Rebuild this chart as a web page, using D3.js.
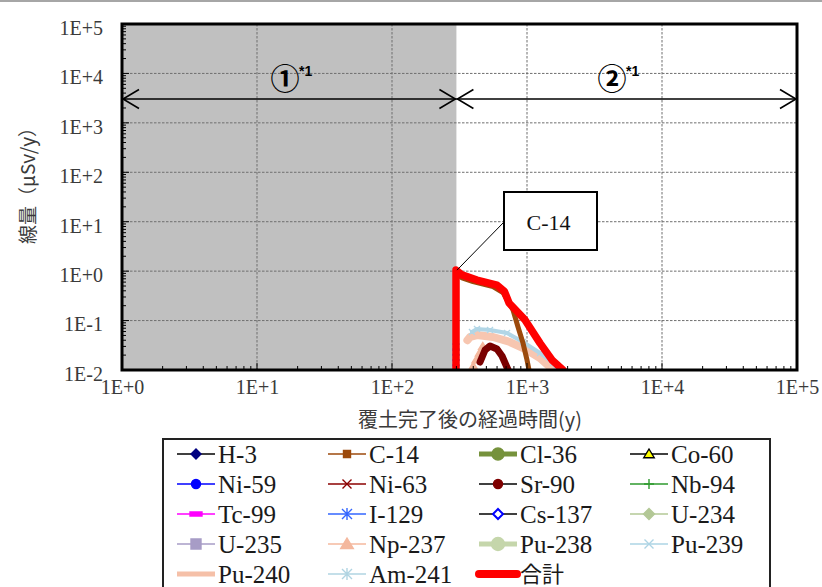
<!DOCTYPE html>
<html><head><meta charset="utf-8">
<script src="https://cdn.jsdelivr.net/npm/d3@7"></script>
<style>body{margin:0;background:#fff} svg{display:block}</style>
</head><body>
<svg id="c" width="822" height="587"></svg>
<script>
// ---------------- data ----------------
const nuclides = ["H-3","C-14","Cl-36","Co-60","Ni-59","Ni-63","Sr-90","Nb-94","Tc-99","I-129","Cs-137","U-234","U-235","Np-237","Pu-238","Pu-239","Pu-240","Am-241","合計"];
const xTickValues = [1, 10, 100, 1000, 10000, 100000];
const xTickLabels = ["1E+0","1E+1","1E+2","1E+3","1E+4","1E+5"];
const yTickValues = [0.01, 0.1, 1, 10, 100, 1000, 10000, 100000];
const yTickLabels = ["1E-2","1E-1","1E+0","1E+1","1E+2","1E+3","1E+4","1E+5"];
const xTitle = "覆土完了後の経過時間(y)";
const yTitle = "線量（μSv/y）";
const periodBoundaryYear = 300;
const periodLabels = ["①", "②"];
const periodNote = "*1";
const calloutText = "C-14";

// years after cover completion / dose (μSv/y)
const totalYears = [298, 298, 330, 426, 599, 680, 736, 967, 1248, 1531, 1849, 2000];
const totalDose  = [0.003, 1.05, 0.84, 0.66, 0.52, 0.39, 0.227, 0.103, 0.035, 0.016, 0.010, 0.008];
const c14Years = [298, 330, 398, 560, 664, 788, 858, 934, 1000, 1035, 1060];
const c14Dose  = [0.95, 0.727, 0.617, 0.489, 0.37, 0.164, 0.074, 0.035, 0.016, 0.010, 0.008];
const pu240Years = [362, 380, 426, 560, 748, 1000, 1248, 1480, 1612];
const pu240Dose  = [0.040, 0.047, 0.051, 0.0465, 0.0368, 0.0254, 0.0175, 0.0115, 0.0091];
const pu239Years = [391, 426, 532, 711, 934, 1248, 1559, 1698];
const pu239Dose  = [0.0588, 0.0675, 0.0644, 0.056, 0.0368, 0.0221, 0.0139, 0.0096];
const ni63Years = [449, 489, 532, 599, 653, 699, 740];
const ni63Dose  = [0.0145, 0.0254, 0.0306, 0.0266, 0.0192, 0.0126, 0.0088];
const np237Years = [385, 400, 420, 445, 470];
const np237Dose  = [0.009, 0.012, 0.016, 0.022, 0.030];
const i129Years = [298, 298, 298, 298, 298];
const i129Dose  = [0.011, 0.014, 0.018, 0.023, 0.029];

// ---------------- styles ----------------
const legendStyle = {
  "H-3":   {line:"#000", w:1.5, m:"diamond", fill:"#000080", stroke:"#000080", s:5},
  "C-14":  {line:"#9c4a0c", w:1.5, m:"square", fill:"#9c4a0c", stroke:"#9c4a0c", s:3.5},
  "Cl-36": {line:"#76923c", w:5, m:"circle", fill:"#76923c", stroke:"#76923c", s:6},
  "Co-60": {line:"#000", w:1.5, m:"triangle", fill:"#ffff00", stroke:"#000", s:5},
  "Ni-59": {line:"#0000ff", w:1.5, m:"circle", fill:"#0000ff", stroke:"#0000ff", s:4.5},
  "Ni-63": {line:"#8b0000", w:1.5, m:"x", fill:"none", stroke:"#8b0000", s:4.5},
  "Sr-90": {line:"#000", w:1.5, m:"circle", fill:"#7f0000", stroke:"#7f0000", s:4.5},
  "Nb-94": {line:"#2e9a2e", w:1.5, m:"plus", fill:"none", stroke:"#2e9a2e", s:5},
  "Tc-99": {line:"#ff00ff", w:1.5, m:"bar", fill:"#ff00ff", stroke:"#ff00ff", s:6},
  "I-129": {line:"#3366ff", w:1.5, m:"asterisk", fill:"none", stroke:"#3366ff", s:5},
  "Cs-137":{line:"#000", w:1.5, m:"diamond", fill:"#fff", stroke:"#0000ff", s:5},
  "U-234": {line:"#b3c896", w:1.5, m:"diamond", fill:"#b3c896", stroke:"#b3c896", s:5.5},
  "U-235": {line:"#a79cc6", w:1.5, m:"square", fill:"#a79cc6", stroke:"#a79cc6", s:5},
  "Np-237":{line:"#f4b89e", w:1.5, m:"triangle", fill:"#f4b89e", stroke:"#f4b89e", s:6},
  "Pu-238":{line:"#c5d6ab", w:5, m:"circle", fill:"#c5d6ab", stroke:"#c5d6ab", s:6.5},
  "Pu-239":{line:"#add4e4", w:1.5, m:"x", fill:"none", stroke:"#add4e4", s:4.5},
  "Pu-240":{line:"#f5c0a8", w:5, m:null},
  "Am-241":{line:"#b0d4e2", w:1.5, m:"asterisk", fill:"none", stroke:"#b0d4e2", s:5},
  "合計":  {line:"#ff0000", w:8, m:null, cap:"round"}
};

const plotSeries = [
  {name:"Np-237", years:np237Years, dose:np237Dose, color:"#f4b89e", w:2, marker:"triangle", ms:4},
  {name:"Ni-63",  years:ni63Years,  dose:ni63Dose,  color:"#7a0000", w:7},
  {name:"Pu-240", years:pu240Years, dose:pu240Dose, color:"#f7c6b0", w:8},
  {name:"Pu-239", years:pu239Years, dose:pu239Dose, color:"#b2d6e6", w:4, marker:"x", ms:3},
  {name:"I-129",  years:i129Years,  dose:i129Dose,  color:"#3366ff", w:1, marker:"asterisk", ms:3.5},
  {name:"C-14",   years:c14Years,   dose:c14Dose,   color:"#9c4a0c", w:5},
  {name:"合計",   years:totalYears, dose:totalDose, color:"#ff0000", w:7.5}
];

// ---------------- layout ----------------
const svg = d3.select("#c");
const L = 122, R = 797, T = 24, B = 370;
const x = d3.scaleLog().domain([1, 1e5]).range([L, R]);
const y = d3.scaleLog().domain([0.01, 1e5]).range([B, T]);
const serif = "'Liberation Serif','Times New Roman',serif";
const cjk = "'Noto Sans CJK JP','Noto Sans',sans-serif";
const grayText = "#3a3a3a";

// top rule line
svg.append("line").attr("x1",0).attr("x2",822).attr("y1",1).attr("y2",1)
  .attr("stroke","#a6a6a6").attr("stroke-width",2);

svg.append("defs").append("clipPath").attr("id","plotclip")
  .append("rect").attr("x",L).attr("y",T).attr("width",R-L).attr("height",B-T);

// period 1 shading
svg.append("rect").attr("x",L).attr("y",T)
  .attr("width",x(periodBoundaryYear)-L).attr("height",B-T).attr("fill","#c0c0c0");

// grid
const grid = svg.append("g");
grid.selectAll(".gx").data(xTickValues.slice(1,-1)).join("line")
  .attr("x1",d=>x(d)).attr("x2",d=>x(d)).attr("y1",T).attr("y2",B)
  .attr("stroke","#6f6f6f").attr("stroke-width",1).attr("stroke-dasharray","2.5,1.5");
grid.selectAll(".gy").data(yTickValues.slice(1,-1)).join("line")
  .attr("x1",L).attr("x2",R).attr("y1",d=>y(d)).attr("y2",d=>y(d))
  .attr("stroke","#6f6f6f").attr("stroke-width",1).attr("stroke-dasharray","2.5,1.5");

// marker path generator
function markerPath(type, s){
  switch(type){
    case "diamond": return `M0,${-s}L${s},0L0,${s}L${-s},0Z`;
    case "square": return `M${-s},${-s}H${s}V${s}H${-s}Z`;
    case "circle": return d3.symbol(d3.symbolCircle, Math.PI*s*s)();
    case "triangle": return `M0,${-s}L${s*1.05},${s*0.75}L${-s*1.05},${s*0.75}Z`;
    case "x": return `M${-s},${-s}L${s},${s}M${s},${-s}L${-s},${s}`;
    case "plus": return `M${-s},0H${s}M0,${-s}V${s}`;
    case "asterisk": return `M${-s},${-s}L${s},${s}M${s},${-s}L${-s},${s}M0,${-s*1.2}V${s*1.2}`;
    case "bar": return `M${-s},-2H${s}V2H${-s}Z`;
  }
  return "";
}
const strokeMarkers = new Set(["x","plus","asterisk"]);

// curves
const lineGen = d3.line().x(d=>x(d[0])).y(d=>y(d[1])).curve(d3.curveLinear);
const curves = svg.append("g").attr("clip-path","url(#plotclip)");
plotSeries.forEach(s=>{
  const pts = s.years.map((yr,i)=>[yr, s.dose[i]]);
  curves.append("path").datum(pts).attr("d",lineGen)
    .attr("fill","none").attr("stroke",s.color).attr("stroke-width",s.w)
    .attr("stroke-linejoin","round").attr("stroke-linecap","round");
  if (s.marker){
    curves.selectAll(null).data(pts).join("path")
      .attr("transform",d=>`translate(${x(d[0])},${y(d[1])})`)
      .attr("d",markerPath(s.marker, s.ms))
      .attr("fill", strokeMarkers.has(s.marker) ? "none" : s.color)
      .attr("stroke", s.color).attr("stroke-width",1.3);
  }
});

// period arrows
const arrowY = 99;
const arrows = svg.append("g").attr("stroke","#000").attr("stroke-width",1.6).attr("fill","none");
const bounds = [[L, x(periodBoundaryYear)], [x(periodBoundaryYear), R]];
bounds.forEach(([a,b])=>{
  arrows.append("line").attr("x1",a).attr("x2",b).attr("y1",arrowY).attr("y2",arrowY);
  arrows.append("path").attr("d",`M${a+17},${arrowY-9.5}L${a+1},${arrowY}L${a+17},${arrowY+9.5}`);
  arrows.append("path").attr("d",`M${b-17},${arrowY-9.5}L${b-1},${arrowY}L${b-17},${arrowY+9.5}`);
});
const periodLabelX = [285, 612];
periodLabels.forEach((lab,i)=>{
  svg.append("text").attr("x",periodLabelX[i]).attr("y",90)
    .attr("text-anchor","middle").attr("font-family",cjk).attr("font-size",29)
    .attr("font-weight","bold").attr("fill","#000").text(lab);
  svg.append("text").attr("x",periodLabelX[i]+14).attr("y",76)
    .attr("font-family","'Liberation Sans',Arial,sans-serif").attr("font-size",14)
    .attr("font-weight","bold").attr("fill","#000").text(periodNote);
});

// callout
const cbX = 504, cbY = 192, cbW = 93, cbH = 58;
svg.append("line").attr("x1",cbX).attr("y1",cbY+30).attr("x2",x(c14Years[0])+1).attr("y2",y(totalDose[1]))
  .attr("stroke","#000").attr("stroke-width",1);
svg.append("rect").attr("x",cbX).attr("y",cbY).attr("width",cbW).attr("height",cbH)
  .attr("fill","#fff").attr("stroke","#000").attr("stroke-width",2);
svg.append("text").attr("x",cbX+cbW/2-2).attr("y",cbY+cbH/2+1).attr("text-anchor","middle")
  .attr("dominant-baseline","central").attr("font-family",serif).attr("font-size",22)
  .attr("fill","#111").text(calloutText);

// minor ticks
const minorX = [], minorY = [];
for (let e=0;e<5;e++) for (let k=2;k<10;k++) minorX.push(k*Math.pow(10,e));
for (let e=-2;e<5;e++) for (let k=2;k<10;k++) minorY.push(k*Math.pow(10,e));
const ticks = svg.append("g").attr("stroke","#000").attr("stroke-width",1);
ticks.selectAll(".mx").data(minorX).join("line")
  .attr("x1",d=>x(d)).attr("x2",d=>x(d)).attr("y1",B).attr("y2",B-4);
ticks.selectAll(".Mx").data(xTickValues).join("line")
  .attr("x1",d=>x(d)).attr("x2",d=>x(d)).attr("y1",B).attr("y2",B-7);
ticks.selectAll(".my").data(minorY).join("line")
  .attr("y1",d=>y(d)).attr("y2",d=>y(d)).attr("x1",L).attr("x2",L+4);
ticks.selectAll(".My").data(yTickValues).join("line")
  .attr("y1",d=>y(d)).attr("y2",d=>y(d)).attr("x1",L).attr("x2",L+7);

// frame
svg.append("rect").attr("x",L).attr("y",T).attr("width",R-L).attr("height",B-T)
  .attr("fill","none").attr("stroke","#000").attr("stroke-width",3);

// axes labels via d3 axes (no domain/ticks lines)
const xAxis = d3.axisBottom(x).tickValues(xTickValues).tickSize(0)
  .tickFormat((d,i)=>xTickLabels[i]);
const gx = svg.append("g").attr("transform",`translate(0,${B+17})`).call(xAxis);
gx.select(".domain").remove();
gx.selectAll("text").attr("font-family",serif).attr("font-size",20).attr("fill",grayText).attr("dy","0.2em");

const yAxis = d3.axisLeft(y).tickValues(yTickValues).tickSize(0)
  .tickFormat((d,i)=>yTickLabels[i]);
const gy = svg.append("g").attr("transform",`translate(${L-16},2)`).call(yAxis);
gy.select(".domain").remove();
gy.selectAll("text").attr("font-family",serif).attr("font-size",20).attr("fill",grayText).attr("dy","0.42em");

// axis titles
svg.append("text").attr("x",470).attr("y",418).attr("text-anchor","middle")
  .attr("dominant-baseline","central").attr("font-family",cjk).attr("font-size",20)
  .attr("fill",grayText).text(xTitle);
svg.append("text").attr("transform","translate(26,181) rotate(-90)").attr("text-anchor","middle")
  .attr("dominant-baseline","central").attr("font-family",cjk).attr("font-size",19)
  .attr("fill",grayText).text(yTitle);

// legend
const lg = svg.append("g");
lg.append("rect").attr("x",163).attr("y",439).attr("width",607).attr("height",200)
  .attr("fill","#fff").attr("stroke","#222").attr("stroke-width",2);
const colX = [177, 328, 479, 630], rowY0 = 454, rowH = 30, sampleLen = 38;
nuclides.forEach((n,i)=>{
  const st = legendStyle[n];
  const cx = colX[i%4], cy = rowY0 + Math.floor(i/4)*rowH;
  const g = lg.append("g").attr("transform",`translate(${cx},${cy})`);
  g.append("line").attr("x1",0).attr("x2",sampleLen).attr("y1",0).attr("y2",0)
    .attr("stroke",st.line).attr("stroke-width",st.w).attr("stroke-linecap",st.cap||"butt");
  if (st.m){
    g.append("path").attr("transform",`translate(${sampleLen/2},0)`)
      .attr("d",markerPath(st.m, st.s))
      .attr("fill", strokeMarkers.has(st.m) ? "none" : st.fill)
      .attr("stroke", st.stroke).attr("stroke-width", st.m==="diamond"&&st.fill==="#fff"?2:1.4);
  }
  const isCjk = n==="合計";
  g.append("text").attr("x",sampleLen+3).attr("y",isCjk ? -2 : 0).attr("dominant-baseline","central")
    .attr("font-family", isCjk ? cjk : serif).attr("font-size", isCjk?22:25)
    .attr("fill","#1a1a1a").text(n);
});
</script>
</body></html>
